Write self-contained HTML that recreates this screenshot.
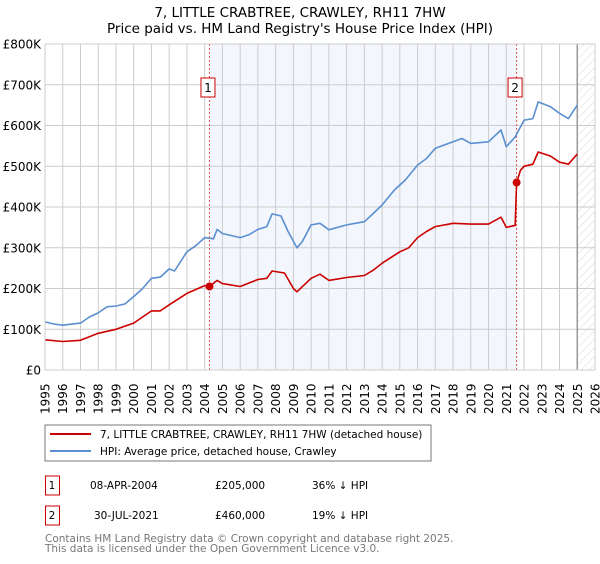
<!DOCTYPE html>
<html><head><meta charset="utf-8"><style>
body{margin:0;background:#fff;font-family:"DejaVu Sans","Liberation Sans",sans-serif;}
svg text{font-family:"DejaVu Sans","Liberation Sans",sans-serif;}
</style></head><body>
<svg id="chart" width="600" height="560" viewBox="0 0 600 560" xmlns="http://www.w3.org/2000/svg">
<defs><pattern id="hatch" width="6" height="6" patternUnits="userSpaceOnUse" patternTransform="rotate(45)"><line x1="0" y1="0" x2="0" y2="6" stroke="#ccc" stroke-width="0.8"/></pattern></defs>
<text x="300" y="17" text-anchor="middle" font-size="13.5" fill="#000">7, LITTLE CRABTREE, CRAWLEY, RH11 7HW</text>
<text x="300" y="33" text-anchor="middle" font-size="13.5" fill="#000">Price paid vs. HM Land Registry's House Price Index (HPI)</text>
<g id="plot"></g>
<rect x="45" y="425" width="386" height="36" fill="#fff" stroke="#777"/>
<line x1="50" y1="434" x2="91" y2="434" stroke="#cc0000" stroke-width="2"/>
<text x="100" y="438" font-size="10.5">7, LITTLE CRABTREE, CRAWLEY, RH11 7HW (detached house)</text>
<line x1="50" y1="451" x2="91" y2="451" stroke="#5b8fd0" stroke-width="2"/>
<text x="100" y="455" font-size="10.5">HPI: Average price, detached house, Crawley</text>
<g>
<rect x="45.5" y="476" width="14" height="19" fill="#fff" stroke="#cc0000"/>
<text x="52" y="489" font-size="10.5" text-anchor="middle">1</text>
<text x="90" y="489" font-size="10.5">08-APR-2004</text>
<text x="215" y="489" font-size="10.5">£205,000</text>
<text x="312" y="489" font-size="10.5">36% ↓ HPI</text></g>
<g>
<rect x="45.5" y="506" width="14" height="19" fill="#fff" stroke="#cc0000"/>
<text x="52" y="519" font-size="10.5" text-anchor="middle">2</text>
<text x="94" y="519" font-size="10.5">30-JUL-2021</text>
<text x="215" y="519" font-size="10.5">£460,000</text>
<text x="312" y="519" font-size="10.5">19% ↓ HPI</text></g>
<text x="45" y="542" font-size="10.5" fill="#777">Contains HM Land Registry data © Crown copyright and database right 2025.</text>
<text x="45" y="552" font-size="10.5" fill="#777">This data is licensed under the Open Government Licence v3.0.</text>
</svg>
<script>
const hpiYears=[1995,1995.5,1996,1997,1997.5,1998,1998.5,1999,1999.5,2000,2000.5,2001,2001.5,2002,2002.3,2003,2003.5,2004,2004.5,2004.7,2005,2006,2006.5,2007,2007.5,2007.8,2008.3,2008.7,2009.2,2009.5,2010,2010.5,2011,2012,2013,2013.5,2014,2014.7,2015.3,2016,2016.5,2017,2018,2018.5,2019,2020,2020.7,2021,2021.5,2022,2022.5,2022.8,2023.5,2024,2024.5,2025];
const hpiValues=[118,113,110,115,130,140,155,157,162,180,200,225,228,248,243,290,305,325,322,345,335,325,332,345,352,383,378,340,300,315,356,360,344,356,364,384,405,442,466,503,519,544,560,568,556,560,589,548,572,613,617,658,646,630,617,650];
const ppYears=[1995,1996,1997,1998,1999,2000,2001,2001.5,2002,2003,2004,2004.27,2004.7,2005,2006,2007,2007.5,2007.8,2008.5,2009,2009.2,2010,2010.5,2011,2012,2013,2013.5,2014,2015,2015.5,2016,2016.5,2017,2018,2019,2020,2020.7,2021,2021.5,2021.58,2021.8,2022,2022.5,2022.8,2023.5,2024,2024.5,2025];
const ppValues=[74,70,73,90,100,115,145,145,160,188,207,205,220,212,205,222,225,243,238,200,192,225,235,220,227,232,245,262,290,300,325,340,352,360,358,358,375,350,355,460,490,500,505,535,525,510,505,530];
const saleYears=[2004.27,2021.58];
const saleValues=[205,460];
const saleLabels=["1","2"];
const yTicks=[0,100,200,300,400,500,600,700,800];
const yTickLabels=["£0","£100K","£200K","£300K","£400K","£500K","£600K","£700K","£800K"];
const xTicks=[1995,1996,1997,1998,1999,2000,2001,2002,2003,2004,2005,2006,2007,2008,2009,2010,2011,2012,2013,2014,2015,2016,2017,2018,2019,2020,2021,2022,2023,2024,2025,2026];
const X0=45,X1=595,Y0=370,Y1=44;
const xs=y=>X0+(y-1995)/(2026-1995)*(X1-X0);
const ys=v=>Y0-v/800*(Y0-Y1);
const NS="http://www.w3.org/2000/svg";
const g=document.getElementById('plot');
function mk(tag,attrs,parent){const e=document.createElementNS(NS,tag);for(const k in attrs)e.setAttribute(k,attrs[k]);(parent||g).appendChild(e);return e;}
let e;
e=mk('rect',{x:xs(saleYears[0]),y:Y1,width:xs(saleYears[1])-xs(saleYears[0]),height:Y0-Y1,fill:'#eef3fc',opacity:0.7});


e=mk('rect',{x:xs(2025),y:Y1,width:X1-xs(2025),height:Y0-Y1,fill:'url(#hatch)'});


xTicks.forEach((t,i)=>{
 e=mk('line',{x1:xs(t),y1:Y1,x2:xs(t),y2:Y0,stroke:'#ccc','stroke-width':1});
 
 
 e=mk('text',{x:0,y:0,'font-size':12,transform:`translate(${xs(t)+4.5},${414}) rotate(-90)`});
 e.textContent=t;
 
 
});
yTicks.forEach((t,i)=>{
 e=mk('line',{x1:X0,y1:ys(t),x2:X1,y2:ys(t),stroke:'#ccc','stroke-width':1});
 
 
 e=mk('text',{x:X0-4,y:ys(t)+4.5,'font-size':12,'text-anchor':'end'});
 e.textContent=yTickLabels[i];
 
 
});
e=mk('line',{x1:xs(2025),y1:Y1,x2:xs(2025),y2:Y0,stroke:'#999','stroke-width':1.5});


saleYears.forEach((s,i)=>{
 e=mk('line',{x1:xs(s),y1:Y1,x2:xs(s),y2:Y0,stroke:'#e05050','stroke-width':1,'stroke-dasharray':'2,2'});
 
 
});
function path(xa,va,color,name){
 const d=xa.map((x,i)=>(i?'L':'M')+xs(x).toFixed(1)+','+ys(va[i]).toFixed(1)).join(' ');
 e=mk('path',{d:d,fill:'none',stroke:color,'stroke-width':1.6,'stroke-linejoin':'round'});
 
 
}
path(hpiYears,hpiValues,'#5b8fd0','hpi-line');
path(ppYears,ppValues,'#cc0000','price-paid-line');
saleYears.forEach((s,i)=>{
 e=mk('circle',{cx:xs(s),cy:ys(saleValues[i]),r:4,fill:'#cc0000'});
 
 
 e=mk('rect',{x:xs(s)-8.5,y:78,width:14,height:19,fill:'#fff',stroke:'#cc0000'});
 
 
 e=mk('text',{x:xs(s)-1.5,y:92,'font-size':12,'text-anchor':'middle'});
 e.textContent=saleLabels[i];
 
 
});
e=mk('rect',{x:X0,y:Y1,width:X1-X0,height:Y0-Y1,fill:'none',stroke:'#ccc'});


</script>
</body></html>
